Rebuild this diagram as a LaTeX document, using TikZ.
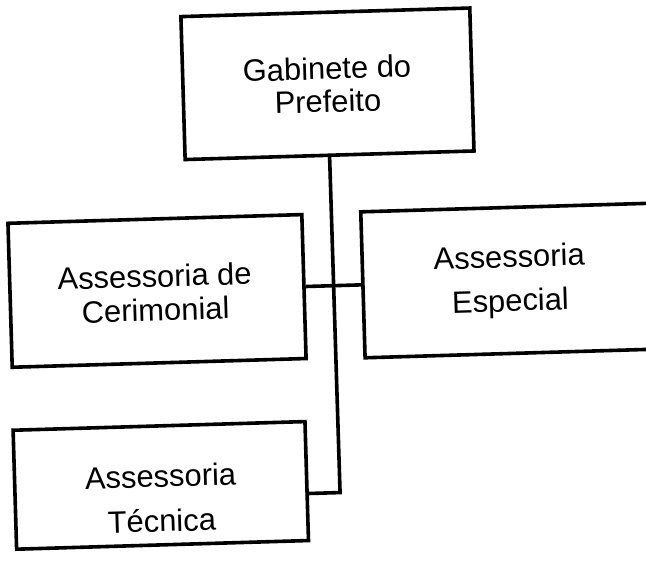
\documentclass[tikz,border=0pt]{standalone}
\usepackage{fontspec}
\setmainfont{Liberation Sans}
\begin{document}
\begin{tikzpicture}[x=1bp,y=-1bp,line width=3.6bp]
\tikzstyle{caixa}=[draw,rectangle,inner sep=0pt]
\tikzset{rotulo/.style={align=center,font=\fontsize{31}{#1}\selectfont},rotulo/.default=33}
\useasboundingbox (0,0) rectangle (646,576);
\clip (0,0) rectangle (646,576);
% the scanned chart is turned a little
\begin{scope}[rotate around={1.7:(323,288)},transform shape]
\node[caixa,minimum width=289bp,minimum height=143bp,
      label={[rotulo=33,yshift=-1bp]center:Gabinete do\\Prefeito}] (gabinete) at (333.5,84) {};
\node[caixa,minimum width=294bp,minimum height=144bp,
      label={[rotulo=34,yshift=-2bp,xshift=-2bp]center:Assessoria de\\Cerimonial}] (cerimonial) at (157,286) {};
\node[caixa,minimum width=294bp,minimum height=146bp,
      label={[rotulo=44,yshift=-1bp]center:Assessoria\\Especial}] (especial) at (510,286) {};
\node[caixa,minimum width=292bp,minimum height=119bp,
      label={[rotulo=45,yshift=-13bp]center:Assessoria\\Técnica}] (tecnica) at (155,480.5) {};
\coordinate (juncao) at (334,493);
\coordinate (tecfim) at (301,493);
\draw (gabinete.south) -- (juncao) -- (tecfim);
\draw (cerimonial.east) -- (especial.west);
\end{scope}
\end{tikzpicture}
\end{document}
